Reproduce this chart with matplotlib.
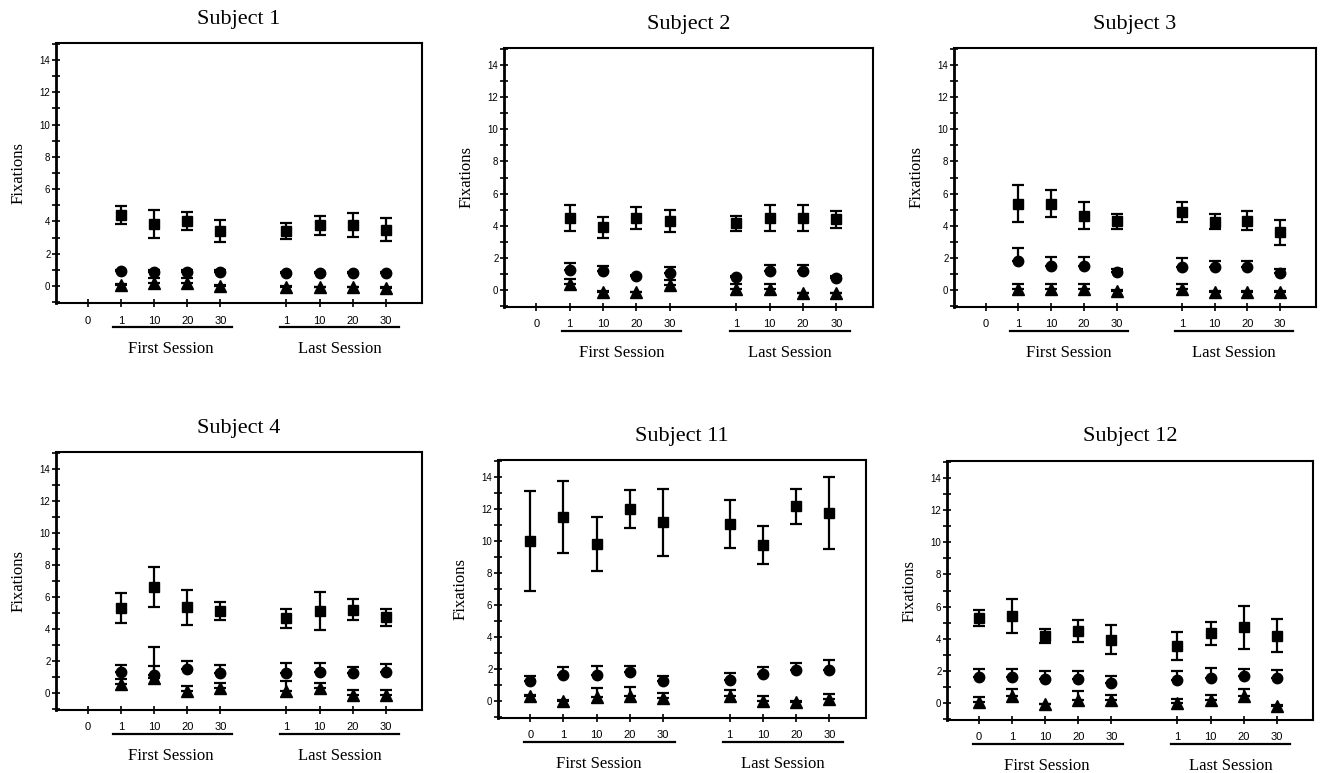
import numpy as np
import matplotlib
matplotlib.use("Agg")
import matplotlib.pyplot as plt
from matplotlib.ticker import MultipleLocator
import matplotlib.transforms as mtransforms

nan = np.nan

# ---- categories / tick labels ----
x_pos = [0, 1, 2, 3, 4, 6, 7, 8, 9]
x_labels = ["0", "1", "10", "20", "30", "1", "10", "20", "30"]
titles = ["Subject 1", "Subject 2", "Subject 3", "Subject 4", "Subject 11", "Subject 12"]

# ---- Subject 1 ----
s1_sq = [nan, 4.40, 3.85, 4.05, 3.42, 3.40, 3.76, 3.76, 3.50]
s1_sq_err = [nan, 0.55, 0.85, 0.55, 0.70, 0.50, 0.57, 0.75, 0.70]
s1_ci = [nan, 0.92, 0.90, 0.90, 0.90, 0.82, 0.82, 0.80, 0.80]
s1_ci_err = [nan, 0.08, 0.08, 0.08, 0.08, 0.08, 0.08, 0.08, 0.08]
s1_tr = [nan, 0.05, 0.20, 0.20, 0.02, -0.06, -0.08, -0.08, -0.10]
s1_tr_err = [nan, 0.05, 0.32, 0.32, 0.05, 0.05, 0.05, 0.05, 0.05]

# ---- Subject 2 ----
s2_sq = [nan, 4.50, 3.92, 4.49, 4.30, 4.15, 4.50, 4.50, 4.40]
s2_sq_err = [nan, 0.80, 0.65, 0.70, 0.66, 0.45, 0.82, 0.82, 0.52]
s2_ci = [nan, 1.28, 1.19, 0.86, 1.07, 0.82, 1.19, 1.19, 0.78]
s2_ci_err = [nan, 0.41, 0.29, 0.08, 0.37, 0.08, 0.40, 0.40, 0.08]
s2_tr = [nan, 0.37, -0.10, -0.14, 0.32, 0.08, 0.08, -0.20, -0.20]
s2_tr_err = [nan, 0.30, 0.05, 0.05, 0.30, 0.33, 0.30, 0.05, 0.05]

# ---- Subject 3 ----
s3_sq = [nan, 5.37, 5.37, 4.63, 4.28, 4.85, 4.25, 4.32, 3.60]
s3_sq_err = [nan, 1.15, 0.85, 0.83, 0.47, 0.62, 0.47, 0.57, 0.78]
s3_ci = [nan, 1.79, 1.50, 1.50, 1.13, 1.46, 1.44, 1.44, 1.09]
s3_ci_err = [nan, 0.80, 0.54, 0.54, 0.21, 0.55, 0.37, 0.37, 0.21]
s3_tr = [nan, 0.06, 0.06, 0.06, -0.06, 0.06, -0.10, -0.10, -0.10]
s3_tr_err = [nan, 0.29, 0.29, 0.29, 0.05, 0.29, 0.05, 0.05, 0.05]

# ---- Subject 4 ----
s4_sq = [nan, 5.30, 6.60, 5.35, 5.14, 4.66, 5.15, 5.22, 4.75]
s4_sq_err = [nan, 0.94, 1.25, 1.10, 0.58, 0.62, 1.18, 0.68, 0.53]
s4_ci = [nan, 1.31, 1.14, 1.50, 1.29, 1.29, 1.35, 1.25, 1.31]
s4_ci_err = [nan, 0.42, 1.73, 0.48, 0.48, 0.62, 0.56, 0.41, 0.52]
s4_tr = [nan, 0.56, 0.94, 0.15, 0.31, 0.15, 0.31, -0.10, -0.10]
s4_tr_err = [nan, 0.30, 0.76, 0.31, 0.30, 0.64, 0.30, 0.27, 0.27]

# ---- Subject 11 ----
s11_sq = [10.00, 11.47, 9.80, 12.00, 11.15, 11.05, 9.75, 12.15, 11.75]
s11_sq_err = [3.10, 2.25, 1.68, 1.17, 2.12, 1.50, 1.18, 1.10, 2.27]
s11_ci = [1.25, 1.64, 1.64, 1.81, 1.23, 1.33, 1.70, 1.95, 1.95]
s11_ci_err = [0.31, 0.50, 0.56, 0.39, 0.31, 0.41, 0.42, 0.42, 0.63]
s11_tr = [0.35, 0.00, 0.25, 0.35, 0.21, 0.35, 0.04, -0.06, 0.15]
s11_tr_err = [0.05, 0.05, 0.56, 0.56, 0.29, 0.36, 0.29, 0.05, 0.31]

# ---- Subject 12 ----
s12_sq = [5.30, 5.40, 4.15, 4.47, 3.95, 3.54, 4.35, 4.72, 4.20]
s12_sq_err = [0.48, 1.07, 0.44, 0.70, 0.88, 0.88, 0.71, 1.34, 1.00]
s12_ci = [1.62, 1.62, 1.52, 1.50, 1.27, 1.46, 1.58, 1.71, 1.58]
s12_ci_err = [0.50, 0.50, 0.48, 0.48, 0.44, 0.54, 0.60, 0.41, 0.46]
s12_tr = [0.10, 0.42, -0.08, 0.21, 0.17, 0.00, 0.17, 0.42, -0.15]
s12_tr_err = [0.27, 0.45, 0.05, 0.54, 0.35, 0.27, 0.31, 0.43, 0.05]

squares = [s1_sq, s2_sq, s3_sq, s4_sq, s11_sq, s12_sq]
squares_err = [s1_sq_err, s2_sq_err, s3_sq_err, s4_sq_err, s11_sq_err, s12_sq_err]
circles = [s1_ci, s2_ci, s3_ci, s4_ci, s11_ci, s12_ci]
circles_err = [s1_ci_err, s2_ci_err, s3_ci_err, s4_ci_err, s11_ci_err, s12_ci_err]
triangles = [s1_tr, s2_tr, s3_tr, s4_tr, s11_tr, s12_tr]
triangles_err = [s1_tr_err, s2_tr_err, s3_tr_err, s4_tr_err, s11_tr_err, s12_tr_err]

# first-session underline starts under "0" only for subjects with a 0 point
first_start = [0.75, 0.78, 0.75, 0.75, -0.18, -0.18]
first_center = [2.5, 2.55, 2.55, 2.5, 2.05, 2.05]

W, H = 1325, 773
boxes = [(56, 422, 43, 303), (504, 873, 48, 307), (954, 1316, 48, 307),
         (56, 422, 452, 710), (498, 866, 460, 718), (947, 1313, 461, 720)]

serif = ["Liberation Serif", "DejaVu Serif"]
sans = ["Liberation Sans", "DejaVu Sans"]

fig = plt.figure(figsize=(W / 100, H / 100), dpi=100)
fig.patch.set_facecolor("white")

for i in range(6):
    l, r, t, b = boxes[i]
    ax = fig.add_axes([l / W, 1 - b / H, (r - l) / W, (b - t) / H])
    x = np.array(x_pos, dtype=float)

    sq = np.array(squares[i]); sqe = np.array(squares_err[i])
    ci = np.array(circles[i]); cie = np.array(circles_err[i])
    tr = np.array(triangles[i]); tre = np.array(triangles_err[i])

    ekw = dict(color="black", ecolor="black", capsize=4, elinewidth=1.6,
               capthick=1.6, linestyle="none")
    ax.errorbar(x, tr, yerr=[np.zeros_like(tre), tre], fmt="^", ms=8, **ekw)
    ax.errorbar(x, ci, yerr=[np.zeros_like(cie), cie], fmt="o", ms=7.5, **ekw)
    ax.errorbar(x, sq, yerr=sqe, fmt="s", ms=7.5, **ekw)

    ax.set_xlim(-0.97, 10.1)
    ax.set_ylim(-1.05, 15.05)
    ax.set_xticks(x_pos)
    ax.set_xticklabels(x_labels)
    ax.yaxis.set_major_locator(MultipleLocator(2))
    ax.yaxis.set_minor_locator(MultipleLocator(1))
    ax.set_yticks(range(0, 15, 2))
    ax.tick_params(axis="both", which="both", direction="inout", color="black",
                   width=1.2)
    ax.tick_params(axis="y", which="major", length=6, pad=1, labelsize=7)
    ax.tick_params(axis="y", which="minor", length=6)
    ax.tick_params(axis="x", which="major", length=6, pad=6, labelsize=8)
    for lab in ax.get_xticklabels() + ax.get_yticklabels():
        lab.set_family(sans)
    for sp in ax.spines.values():
        sp.set_linewidth(1.5)
        sp.set_color("black")
    ax.spines["left"].set_linewidth(2)

    h = b - t
    trans = mtransforms.blended_transform_factory(ax.transData, ax.transAxes)
    ax.plot([first_start[i], 4.35], [-24 / h] * 2, color="black", lw=1.6,
            transform=trans, clip_on=False)
    ax.plot([5.8, 9.4], [-24 / h] * 2, color="black", lw=1.6,
            transform=trans, clip_on=False)
    ax.text(first_center[i], -46 / h, "First Session", transform=trans,
            ha="center", va="center", fontsize=12, family=serif)
    ax.text(7.6, -46 / h, "Last Session", transform=trans,
            ha="center", va="center", fontsize=12, family=serif)

    ax.text(0.5, 1 + 24 / h, titles[i], transform=ax.transAxes, ha="center",
            va="center", fontsize=16, family=serif)
    ax.text(-37 / (r - l), 0.5, "Fixations", transform=ax.transAxes,
            rotation=90, ha="center", va="center", fontsize=12, family=serif)

fig.savefig("out.png", dpi=100, facecolor="white")
